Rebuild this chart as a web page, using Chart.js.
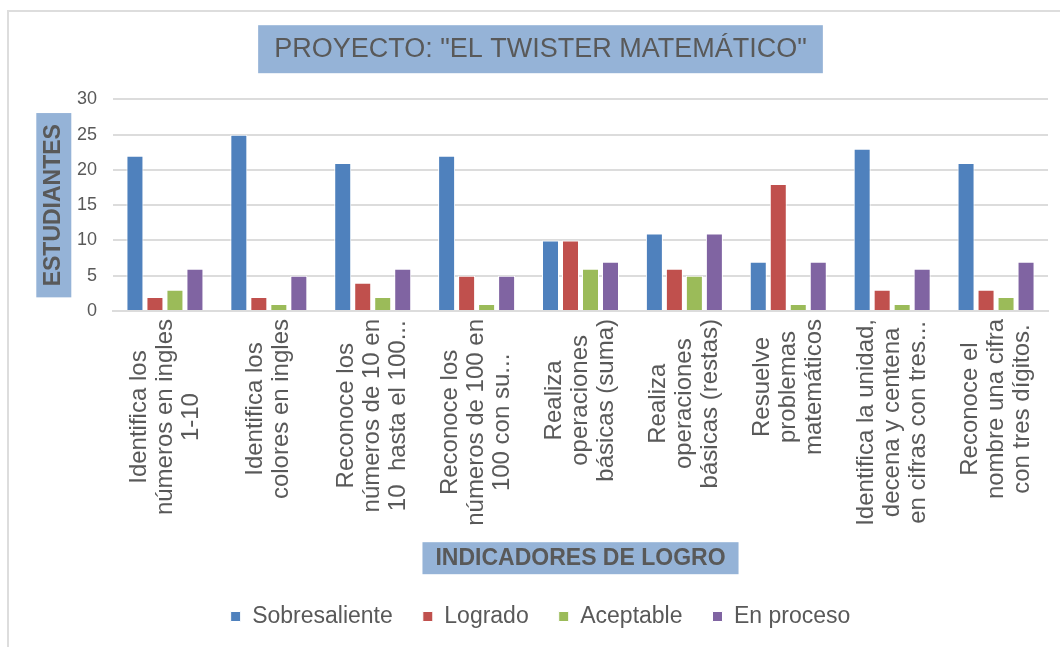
<!DOCTYPE html>
<html>
<head>
<meta charset="utf-8">
<script src="https://cdn.jsdelivr.net/npm/chart.js@4.4.1/dist/chart.umd.min.js"></script>
<style>
  html, body { margin: 0; padding: 0; background: #fff; overflow: hidden; }
  #wrap { position: relative; width: 1060px; height: 647px; }
</style>
</head>
<body>
<div id="wrap"><canvas id="chart"></canvas></div>
<script>
// indicadores de logro (eje x), cada uno en varias líneas
const categories = [
  ['Identifica los', 'números en ingles', '1-10'],
  ['Identifica los', 'colores en ingles'],
  ['Reconoce los', 'números de 10 en', '10  hasta el 100...'],
  ['Reconoce los', 'números de 100 en', '100 con su...'],
  ['Realiza', 'operaciones', 'básicas (suma)'],
  ['Realiza', 'operaciones', 'básicas (restas)'],
  ['Resuelve', 'problemas', 'matemáticos'],
  ['Identifica la unidad,', 'decena y centena', 'en cifras con tres...'],
  ['Reconoce el', 'nombre una cifra', 'con tres dígitos.'],
];

const sobresaliente = [22, 25, 21, 22, 10, 11, 7, 23, 21];
const logrado = [2, 2, 4, 5, 10, 6, 18, 3, 3];
const aceptable = [3, 1, 2, 1, 6, 5, 1, 1, 2];
const enProceso = [6, 5, 6, 5, 7, 11, 7, 6, 7];

const yMin = 0;
const yMax = 30;
const yStep = 5;

const textColor = '#595959';
const boxColor = '#95b3d7';
const gridColor = '#dcdcdc';
const xLabelFont = '24px "Liberation Sans", Arial, sans-serif';
const xLabelLine = 26;

// fondo, marco y cajas azules detrás de los títulos
const boxesPlugin = {
  id: 'boxes',
  beforeDraw(chart) {
    const ctx = chart.ctx;
    ctx.save();
    ctx.fillStyle = '#fff';
    ctx.fillRect(0, 0, chart.width, chart.height);

    ctx.strokeStyle = '#dddddd';
    ctx.lineWidth = 2;
    ctx.beginPath();
    ctx.moveTo(8, chart.height);
    ctx.lineTo(8, 11);
    ctx.lineTo(chart.width, 11);
    ctx.stroke();

    ctx.fillStyle = boxColor;

    // título principal
    const tb = chart.titleBlock;
    const tOpts = chart.options.plugins.title;
    const tFont = Chart.helpers.toFont(tOpts.font);
    ctx.font = tFont.string;
    const tw = ctx.measureText(tOpts.text).width;
    const tcx = (tb.left + tb.right) / 2;
    const tcy = tb.top + tOpts.padding.top + tFont.lineHeight / 2;
    ctx.fillRect(tcx - tw / 2 - 16, tcy - 24, tw + 32, 48);

    // título eje y
    const ys = chart.scales.y;
    const yt = ys.options.title;
    const yFont = Chart.helpers.toFont(yt.font);
    ctx.font = yFont.string;
    const yw = ctx.measureText(yt.text).width;
    const ycx = ys.left + yt.padding.top + yFont.lineHeight / 2;
    const ycy = (ys.top + ys.bottom) / 2;
    ctx.fillRect(ycx - 17.5, ycy - yw / 2 - 11, 35, yw + 22);

    // título eje x
    const xs = chart.scales.x;
    const xt = xs.options.title;
    const xFont = Chart.helpers.toFont(xt.font);
    ctx.font = xFont.string;
    const xw = ctx.measureText(xt.text).width;
    const xcx = (xs.left + xs.right) / 2;
    const xcy = xs.bottom - xt.padding.bottom - xFont.lineHeight / 2;
    ctx.fillRect(xcx - xw / 2 - 13, xcy - 16, xw + 26, 32);
    ctx.restore();
  },
  // etiquetas del eje x: giradas y centradas entre sí
  afterDraw(chart) {
    const ctx = chart.ctx;
    const xs = chart.scales.x;
    const top = xs.top + xs.options.ticks.padding;
    ctx.save();
    ctx.font = xLabelFont;
    ctx.fillStyle = textColor;
    ctx.textAlign = 'center';
    ctx.textBaseline = 'middle';
    categories.forEach((lines, i) => {
      const x = xs.getPixelForTick(i);
      const maxW = Math.max(...lines.map((l) => ctx.measureText(l).width));
      ctx.save();
      ctx.translate(x, top);
      ctx.rotate(-Math.PI / 2);
      lines.forEach((line, j) => {
        ctx.fillText(line, -maxW / 2, (j - (lines.length - 1) / 2) * xLabelLine);
      });
      ctx.restore();
    });
    ctx.restore();
  },
};

const barOpts = {
  borderColor: '#ffffff',
  borderWidth: 1,
  barPercentage: 0.85,
  categoryPercentage: 0.77,
};

new Chart(document.getElementById('chart'), {
  type: 'bar',
  data: {
    labels: categories,
    datasets: [
      { label: 'Sobresaliente', data: sobresaliente, backgroundColor: '#4f81bd', ...barOpts },
      { label: 'Logrado', data: logrado, backgroundColor: '#c0504d', ...barOpts },
      { label: 'Aceptable', data: aceptable, backgroundColor: '#9bbb59', ...barOpts },
      { label: 'En proceso', data: enProceso, backgroundColor: '#8064a2', ...barOpts },
    ],
  },
  options: {
    responsive: true,
    maintainAspectRatio: false,
    animation: false,
    layout: {
      padding: { left: 33, right: 12, top: 0, bottom: 9 },
    },
    plugins: {
      title: {
        display: true,
        text: 'PROYECTO: "EL TWISTER MATEMÁTICO"',
        color: textColor,
        font: { family: '"Liberation Sans", Arial, sans-serif', size: 27, weight: 'normal' },
        padding: { top: 33, bottom: 34 },
      },
      legend: {
        position: 'bottom',
        labels: {
          color: textColor,
          font: { family: '"Liberation Sans", Arial, sans-serif', size: 23 },
          boxWidth: 10,
          boxHeight: 10,
          padding: 30,
        },
      },
      tooltip: { enabled: false },
    },
    scales: {
      x: {
        grid: { display: false },
        border: { display: true, color: gridColor, width: 2 },
        afterFit: (scale) => {
          scale.height = 264;
          scale.paddingLeft = 0;
          scale.paddingRight = 0;
        },
        ticks: {
          color: 'rgba(0,0,0,0)',
          font: { family: '"Liberation Sans", Arial, sans-serif', size: 24, lineHeight: xLabelLine / 24 },
          maxRotation: 90,
          minRotation: 90,
          autoSkip: false,
          padding: 8,
        },
        title: {
          display: true,
          text: 'INDICADORES DE LOGRO',
          color: textColor,
          font: { family: '"Liberation Sans", Arial, sans-serif', size: 23, weight: 'bold' },
          padding: { top: 18, bottom: 3 },
        },
      },
      y: {
        min: yMin,
        max: yMax,
        afterFit: (scale) => { scale.width = 80; },
        grid: { color: gridColor, lineWidth: 2, drawTicks: false },
        border: { display: false },
        ticks: {
          stepSize: yStep,
          color: textColor,
          font: { family: '"Liberation Sans", Arial, sans-serif', size: 18 },
          padding: 16,
        },
        title: {
          display: true,
          text: 'ESTUDIANTES',
          color: textColor,
          font: { family: '"Liberation Sans", Arial, sans-serif', size: 23, weight: 'bold' },
          padding: { top: 7, bottom: 9 },
        },
      },
    },
  },
  plugins: [boxesPlugin],
});
</script>
</body>
</html>
